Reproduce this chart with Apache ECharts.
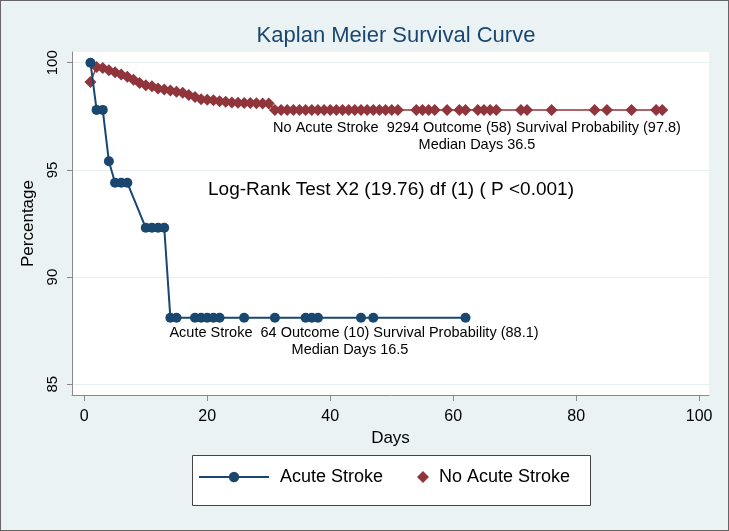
<!DOCTYPE html>
<html>
<head>
<meta charset="utf-8">
<script src="https://cdn.jsdelivr.net/npm/echarts@6/dist/echarts.min.js"></script>
<style>
  html, body { margin: 0; padding: 0; background: #eaf2f3; }
  #chart { width: 729px; height: 531px; }
  #frame { position: absolute; left: 0; top: 0; width: 729px; height: 531px; box-sizing: border-box; border: 1px solid #666; pointer-events: none; }
</style>
</head>
<body>
<div id="chart"></div>
<div id="frame"></div>
<script>
// Acute Stroke (blue circles)
var strokeDays = [1, 2, 3, 4, 5, 6, 7, 10, 11, 12, 13, 14, 15, 18, 19, 20, 21, 22, 26, 31, 36, 37, 38, 45, 47, 62];
var strokeSurv = [100, 97.8, 97.8, 95.4, 94.4, 94.4, 94.4, 92.3, 92.3, 92.3, 92.3, 88.1, 88.1, 88.1, 88.1, 88.1, 88.1, 88.1, 88.1, 88.1, 88.1, 88.1, 88.1, 88.1, 88.1, 88.1];

// No Acute Stroke (red diamonds)
var noStrokeDays = [1, 2, 3, 4, 5, 6, 7, 8, 9, 10, 11, 12, 13, 14, 15, 16, 17, 18, 19, 20,
  21, 22, 23, 24, 25, 26, 27, 28, 29, 30, 31, 32, 33, 34, 35, 36, 37, 38, 39, 40,
  41, 42, 43, 44, 45, 46, 47, 48, 49, 50, 51, 54, 55, 56, 57, 59, 61, 62, 64, 65,
  66, 67, 71, 72, 76, 83, 85, 89, 93, 94];
var noStrokeSurv = [99.1, 99.8, 99.75, 99.65, 99.55, 99.45, 99.35, 99.2, 99.05, 98.95, 98.9, 98.8, 98.75, 98.7, 98.65, 98.6, 98.5, 98.4, 98.3, 98.27,
  98.25, 98.2, 98.18, 98.15, 98.13, 98.12, 98.12, 98.11, 98.1, 98.1, 97.8, 97.8, 97.8, 97.8, 97.8, 97.8, 97.8, 97.8, 97.8, 97.8,
  97.8, 97.8, 97.8, 97.8, 97.8, 97.8, 97.8, 97.8, 97.8, 97.8, 97.8, 97.8, 97.8, 97.8, 97.8, 97.8, 97.8, 97.8, 97.8, 97.8,
  97.8, 97.8, 97.8, 97.8, 97.8, 97.8, 97.8, 97.8, 97.8, 97.8];

var xTicks = [0, 20, 40, 60, 80, 100];
var yTicks = [85, 90, 95, 100];

var FONT = 'Liberation Sans, Arial, sans-serif';
var BLUE = '#1a476f';
var RED = '#90353b';
var AXIS_GRAY = '#8a8a8a';

function pairs(xs, ys) {
  return xs.map(function (x, i) { return [x, ys[i]]; });
}

function note(x, y, text, size) {
  return {
    type: 'text', x: x, y: y,
    style: { text: text, font: size + 'px ' + FONT, fill: '#000', align: 'center', verticalAlign: 'middle' }
  };
}

var chart = echarts.init(document.getElementById('chart'));

var option = {
  backgroundColor: '#eaf2f3',
  animation: false,
  textStyle: { fontFamily: FONT },
  title: {
    text: 'Kaplan Meier Survival Curve',
    left: 391,
    top: 20,
    textAlign: 'center',
    textStyle: { fontFamily: FONT, fontSize: 22, fontWeight: 'normal', color: BLUE }
  },
  grid: {
    left: 72, right: 20, top: 52, bottom: 136,
    show: true, backgroundColor: '#fff', borderWidth: 0
  },
  legend: [{
    data: ['Acute Stroke'],
    left: 198, top: 468, padding: 0,
    itemWidth: 70, itemHeight: 13,
    textStyle: { fontFamily: FONT, fontSize: 18, color: '#000', padding: [0, 0, 0, 6] }
  }, {
    data: [{ name: 'No Acute Stroke', icon: 'diamond' }],
    left: 417, top: 468, padding: 0,
    itemWidth: 12, itemHeight: 12,
    textStyle: { fontFamily: FONT, fontSize: 18, color: '#000', padding: [0, 0, 0, 5] }
  }],
  xAxis: {
    type: 'value',
    min: -2, max: 101.6,
    name: 'Days', nameLocation: 'middle', nameGap: 32,
    nameTextStyle: { fontFamily: FONT, fontSize: 17, color: '#000' },
    axisLine: { show: true, onZero: false, lineStyle: { color: AXIS_GRAY, width: 1 } },
    axisTick: { show: true, length: 6, customValues: xTicks, lineStyle: { color: AXIS_GRAY } },
    axisLabel: { customValues: xTicks, fontFamily: FONT, fontSize: 16, color: '#000', margin: 14 },
    splitLine: { show: false }
  },
  yAxis: {
    type: 'value',
    min: 84.5, max: 100.5,
    name: 'Percentage', nameLocation: 'middle', nameGap: 30,
    nameTextStyle: { fontFamily: FONT, fontSize: 17, color: '#000' },
    axisLine: { show: true, onZero: false, lineStyle: { color: AXIS_GRAY, width: 1 } },
    axisTick: { show: true, length: 5, customValues: yTicks, lineStyle: { color: AXIS_GRAY } },
    axisLabel: { customValues: yTicks, rotate: 90, fontFamily: FONT, fontSize: 15, color: '#000', margin: 12 },
    splitLine: { show: true, lineStyle: { color: '#e6eff1', width: 1 } }
  },
  graphic: [
    { type: 'rect', left: 192, top: 455, z: -1, shape: { width: 398, height: 50 },
      style: { fill: '#fff', stroke: '#444', lineWidth: 1 } },
    note(477, 128, 'No Acute Stroke  9294 Outcome (58) Survival Probability (97.8)', 14.5),
    note(477, 145, 'Median Days 36.5', 14.5),
    note(391, 190, 'Log-Rank Test X2 (19.76) df (1) ( P <0.001)', 19),
    note(354, 333, 'Acute Stroke  64 Outcome (10) Survival Probability (88.1)', 14.5),
    note(350, 350, 'Median Days 16.5', 14.5)
  ],
  series: [{
    name: 'No Acute Stroke',
    type: 'line',
    data: pairs(noStrokeDays, noStrokeSurv),
    symbol: 'diamond',
    symbolSize: 12,
    showAllSymbol: true,
    lineStyle: { color: RED, width: 1.5 },
    itemStyle: { color: RED },
    z: 2
  }, {
    name: 'Acute Stroke',
    type: 'line',
    data: pairs(strokeDays, strokeSurv),
    symbol: 'circle',
    symbolSize: 10,
    showAllSymbol: true,
    lineStyle: { color: BLUE, width: 2 },
    itemStyle: { color: BLUE },
    z: 3
  }]
};

chart.setOption(option);
</script>
</body>
</html>
